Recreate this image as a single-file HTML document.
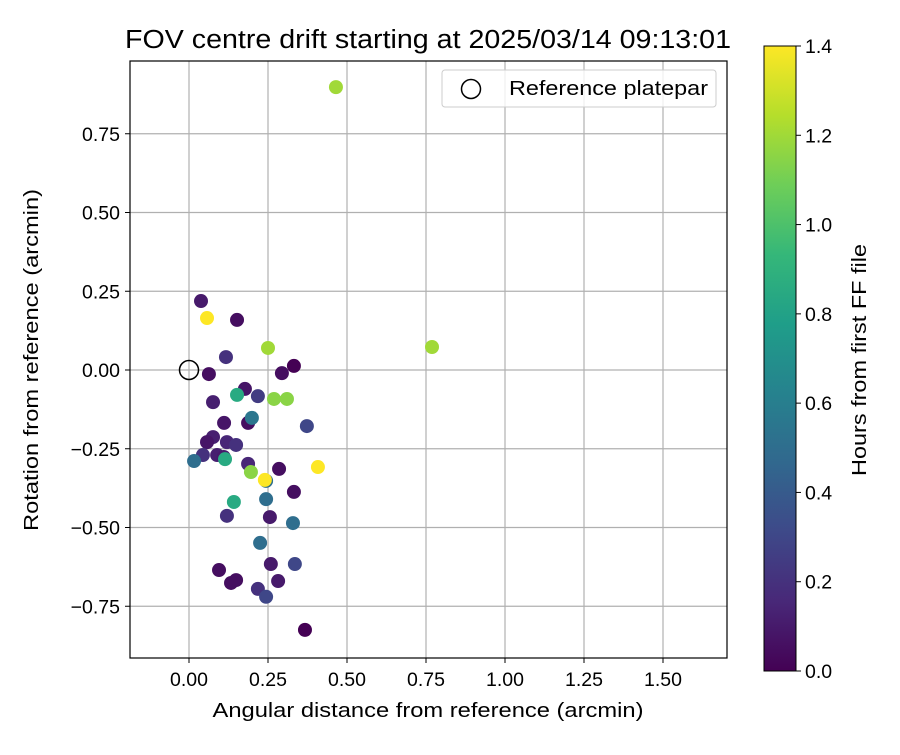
<!DOCTYPE html>
<html><head><meta charset="utf-8"><style>
body{margin:0;background:#fff;}
svg text{font-family:"Liberation Sans","DejaVu Sans",sans-serif;fill:#000;}
</style></head><body>
<svg id="chart" width="900" height="750" xmlns="http://www.w3.org/2000/svg">
<defs><linearGradient id="vir" x1="0" y1="1" x2="0" y2="0"></linearGradient></defs>
<rect width="900" height="750" fill="#fff"/>
<text x="428" y="48" font-size="25.5" text-anchor="middle" textLength="606" lengthAdjust="spacingAndGlyphs">FOV centre drift starting at 2025/03/14 09:13:01</text>
<g id="grid"></g><g id="pts"></g>
<rect x="130" y="61" width="597" height="597" fill="none" stroke="#000" stroke-width="1.2"/>
<g id="ticks"></g>
<text x="428" y="717" font-size="20.5" text-anchor="middle" textLength="431" lengthAdjust="spacingAndGlyphs">Angular distance from reference (arcmin)</text>
<text transform="translate(38,360) rotate(-90)" font-size="20.5" text-anchor="middle" textLength="342" lengthAdjust="spacingAndGlyphs">Rotation from reference (arcmin)</text>
<g>
<rect x="442" y="70" width="274" height="37" rx="3" fill="#fff" fill-opacity="0.8" stroke="#ccc"/>
<circle cx="471" cy="89" r="9.5" fill="none" stroke="#000" stroke-width="1.5"/>
<text x="509" y="95" font-size="20.5" textLength="199" lengthAdjust="spacingAndGlyphs">Reference platepar</text>
</g>
<rect x="764" y="46" width="32" height="625" fill="url(#vir)" stroke="#000" stroke-width="1"/>
<g id="cbticks"></g>
<text transform="translate(866,360) rotate(-90)" font-size="20.5" text-anchor="middle" textLength="232" lengthAdjust="spacingAndGlyphs">Hours from first FF file</text>
</svg>
<script>
const xs=[0.038,0.057,0.152,0.250,0.117,0.063,0.294,0.332,0.177,0.152,0.218,0.269,0.310,0.076,0.111,0.187,0.199,0.373,0.076,0.057,0.120,0.149,0.044,0.089,0.110,0.016,0.114,0.187,0.196,0.285,0.408,0.244,0.240,0.332,0.142,0.244,0.120,0.256,0.329,0.225,0.095,0.259,0.335,0.149,0.133,0.282,0.218,0.244,0.367,0.465,0.769];
const ys=[0.219,0.165,0.159,0.070,0.041,-0.013,-0.010,0.013,-0.060,-0.079,-0.083,-0.092,-0.092,-0.102,-0.168,-0.168,-0.152,-0.178,-0.213,-0.229,-0.229,-0.238,-0.270,-0.270,-0.276,-0.289,-0.283,-0.298,-0.324,-0.314,-0.308,-0.352,-0.349,-0.387,-0.419,-0.410,-0.463,-0.467,-0.486,-0.549,-0.635,-0.616,-0.616,-0.667,-0.676,-0.670,-0.695,-0.720,-0.825,0.898,0.073];
const hours=[0.1,1.4,0.05,1.2,0.2,0.05,0.05,0.0,0.08,0.85,0.25,1.15,1.15,0.12,0.08,0.05,0.55,0.3,0.12,0.08,0.15,0.2,0.2,0.12,0.1,0.5,0.85,0.15,1.15,0.05,1.4,0.5,1.4,0.05,0.85,0.5,0.2,0.1,0.5,0.5,0.05,0.1,0.3,0.05,0.05,0.1,0.2,0.3,0.0,1.2,1.2];
const xTicks=[0,0.25,0.5,0.75,1.0,1.25,1.5];
const xTickLabels=["0.00","0.25","0.50","0.75","1.00","1.25","1.50"];
const yTicks=[-0.75,-0.5,-0.25,0,0.25,0.5,0.75];
const yTickLabels=["−0.75","−0.50","−0.25","0.00","0.25","0.50","0.75"];
const cTicks=[0,0.2,0.4,0.6,0.8,1.0,1.2,1.4];
const cTickLabels=["0.0","0.2","0.4","0.6","0.8","1.0","1.2","1.4"];
const NS="http://www.w3.org/2000/svg";
const X=v=>189+v*316, Y=v=>370-v*315, C=v=>671-v/1.4*625;
const vstops=["#440154","#482878","#3e4989","#31688e","#26828e","#1f9e89","#35b779","#6ece58","#b5de2b","#fde725"];
function hex(h){return [1,3,5].map(i=>parseInt(h.substr(i,2),16));}
function viridis(t){t=Math.max(0,Math.min(1,t));const p=t*(vstops.length-1),i=Math.min(Math.floor(p),vstops.length-2),f=p-i;const a=hex(vstops[i]),b=hex(vstops[i+1]);return "rgb("+a.map((c,k)=>Math.round(c+(b[k]-c)*f)).join(",")+")";}
function mk(tag,at,parent){const e=document.createElementNS(NS,tag);for(const k in at)e.setAttribute(k,at[k]);parent.appendChild(e);return e;}
const grad=document.getElementById('vir');
vstops.forEach((s,i)=>mk('stop',{offset:i/(vstops.length-1),'stop-color':s},grad));
const g=document.getElementById('grid'),tk=document.getElementById('ticks');
xTicks.forEach((v,i)=>{const x=X(v);
const l=mk('line',{x1:x,x2:x,y1:61,y2:658,stroke:'#b0b0b0','stroke-width':1.2},g);


mk('line',{x1:x,x2:x,y1:658,y2:663,stroke:'#000'},tk);
const t=mk('text',{x:x,y:686,'font-size':19.5,'text-anchor':'middle'},tk);t.textContent=xTickLabels[i];

});
yTicks.forEach((v,i)=>{const y=Y(v);
const l=mk('line',{x1:130,x2:727,y1:y,y2:y,stroke:'#b0b0b0','stroke-width':1.2},g);


mk('line',{x1:125,x2:130,y1:y,y2:y,stroke:'#000'},tk);
const t=mk('text',{x:120,y:y+7,'font-size':19.5,'text-anchor':'end'},tk);t.textContent=yTickLabels[i];

});
const pg=document.getElementById('pts');
xs.forEach((v,i)=>{const c=mk('circle',{cx:X(v),cy:Y(ys[i]),r:7,fill:viridis(hours[i]/1.4)},pg);

});
const rc=mk('circle',{cx:X(0),cy:Y(0),r:9.5,fill:'none',stroke:'#000','stroke-width':1.5},pg);


const cb=document.getElementById('cbticks');
cTicks.forEach((v,i)=>{const y=C(v);mk('line',{x1:796,x2:801,y1:y,y2:y,stroke:'#000'},cb);
const t=mk('text',{x:805,y:y+7,'font-size':19.5},cb);t.textContent=cTickLabels[i];

});
</script>
</body></html>
